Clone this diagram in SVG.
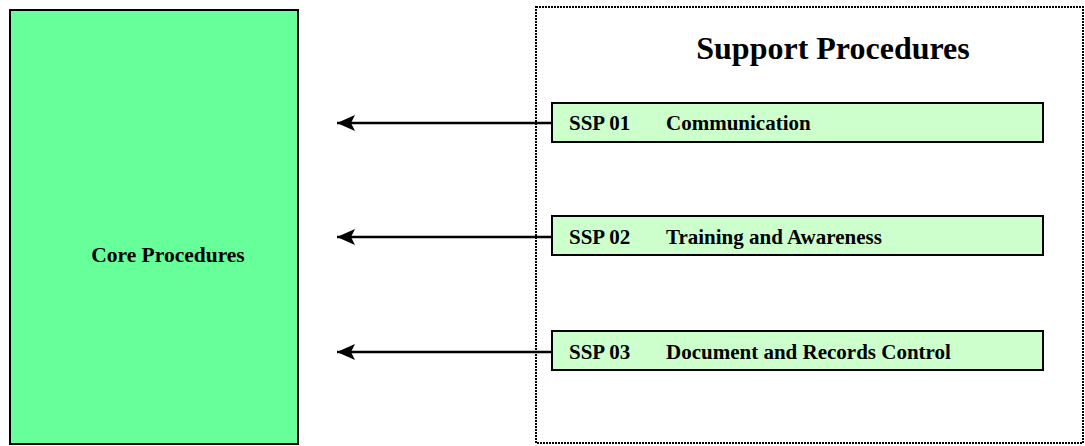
<svg xmlns="http://www.w3.org/2000/svg" width="1085" height="446" viewBox="0 0 1085 446">
<style>
.core{fill:#66FF99;stroke:#000;stroke-width:2}
.ssp{fill:#CCFFCC;stroke:#000;stroke-width:2}
.dot{fill:none;stroke:#000;stroke-width:2;stroke-dasharray:2 1}
.t{font-family:"Liberation Serif","Times New Roman",serif;font-weight:bold;fill:#000}
.s{font-size:21px}
.conn{stroke:#000;stroke-width:2.5;fill:none}
</style>
<defs>
<marker id="ah" markerUnits="userSpaceOnUse" markerWidth="18" markerHeight="18" refX="18" refY="9" orient="auto">
<path d="M18,9 L0,1 L4,9 L0,17 Z" fill="#000"/>
</marker>
</defs>
<g id="support">
<rect class="dot" x="536" y="7" width="547" height="436"/>
<text class="t" x="833" y="59" font-size="32" text-anchor="middle">Support Procedures</text>
</g>
<g id="core">
<rect class="core" x="10" y="10" width="288" height="434"/>
<text class="t" x="168" y="262" font-size="21.5" text-anchor="middle">Core Procedures</text>
</g>
<g id="connectors">
<line class="conn" x1="552" y1="123" x2="337" y2="123" marker-end="url(#ah)"/>
<line class="conn" x1="552" y1="237" x2="337" y2="237" marker-end="url(#ah)"/>
<line class="conn" x1="552" y1="352" x2="337" y2="352" marker-end="url(#ah)"/>
</g>
<g id="ssp01">
<rect class="ssp" x="552" y="103" width="491" height="39"/>
<text class="t s" x="569" y="130">SSP 01</text>
<text class="t s" x="666" y="130">Communication</text>
</g>
<g id="ssp02">
<rect class="ssp" x="552" y="216" width="491" height="39"/>
<text class="t s" x="569" y="244">SSP 02</text>
<text class="t s" x="666" y="244">Training and Awareness</text>
</g>
<g id="ssp03">
<rect class="ssp" x="552" y="331" width="491" height="39"/>
<text class="t s" x="569" y="359">SSP 03</text>
<text class="t s" x="666" y="359">Document and Records Control</text>
</g>
</svg>
